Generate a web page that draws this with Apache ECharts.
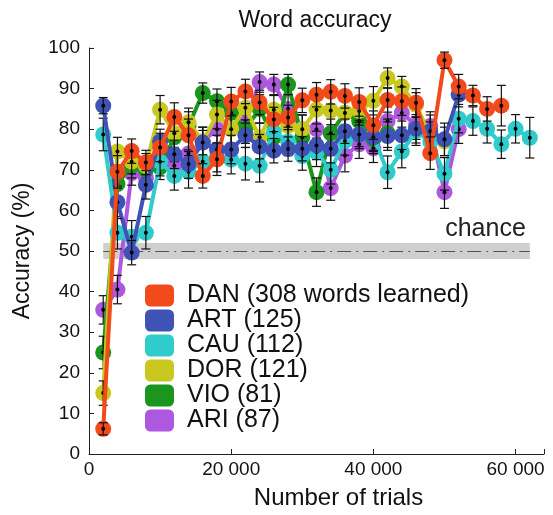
<!DOCTYPE html>
<html>
<head>
<meta charset="utf-8">
<script src="https://cdn.jsdelivr.net/npm/echarts@6/dist/echarts.min.js"></script>
<style>
html,body{margin:0;padding:0;background:#fff;}
#chart{width:553px;height:515px;}
</style>
</head>
<body>
<div id="chart"></div>
<script>
// ---- data ----
const trials = [2000,4000,6000,8000,10000,12000,14000,16000,18000,20000,22000,24000,26000,28000,30000,32000,34000,36000,38000,40000,42000,44000,46000,48000,50000,52000,54000,56000,58000,60000,62000];

const seriesNames = ['DAN (308 words learned)','ART (125)','CAU (112)','DOR (121)','VIO (81)','ARI (87)'];

const DAN = [6.2,69.5,74.6,71.8,75.5,83,78.5,68.5,72.6,86.8,89.3,86.6,82.4,82.9,87.1,88.5,89.2,88.2,86.7,81,87.2,86.9,86.5,74.1,97,90.5,88.3,85,85.8];
const DAN_err = [1.5,4,3,3,3.5,3.5,4,3,4,3.5,3,3,3,3,3,3,3,3,3.5,3.5,3,3.5,3.5,4,2,3,2.5,3,5];

const ART = [85.8,62,49.6,66.3,77,73.8,71.4,76.7,75,75,78.5,75.7,74.7,75.1,75.2,76,75.2,79.5,78.7,78,78.3,78.5,80.1,79.5,77.5,88.5];
const ART_err = [2,4,3,3.5,3,3.5,3.5,3,3.5,3.5,3,3,3,3,3,3.5,3.5,3,3,3.5,3.5,3.5,3.5,4,4,3];

const CAU = [78.7,54.5,53.5,54.5,72,68.5,69.5,72,73,72.5,71.5,71,79.3,77,73.4,74.3,70,77.1,78.7,78.3,69.4,74.5,79.5,77,69,82.6,82,80.1,76.3,80.1,77.9];
const CAU_err = [4,4,4,4,3.5,3.5,4,3.5,3.5,3.5,4,4,3.5,3.5,3.5,3.5,3.5,3.5,3.5,3.5,4,4,3.5,3.5,4,3.5,3.5,3.5,3.5,3.5,5];

const DOR = [15,74.5,72,71,84.8,79,81.7,77,83.6,80,85.3,78,84.8,80.8,80,84.8,84.6,84,84.5,87,92.6,90.5,86,78.3,77];
const DOR_err = [3,3.5,3,3,3.5,3.5,3.5,3.5,3.5,3.5,3,3.5,3.5,3.5,3.5,3.5,3.5,3.5,3.5,3.5,2.5,2.5,3,3.5,3.5];

const VIO = [25,66.5,71,70,70.6,78,80.8,88.9,86.9,84,80,85,78,91,78,64.5,79,84,82,77.5,79];
const VIO_err = [4,3.5,3,3,3,3.5,3.5,2.5,3,3.5,3.5,3.5,3.5,2.5,3.5,3.5,3.5,3,3,3.5,3.5];

const ARI = [35.5,40.5,69.2,68,74,71,74,77,80,80,82,91.6,91,85,80,80,65.5,73.5,76.3,75.3,82,84,81,80.8,64.5,80];
const ARI_err = [3.5,3.5,3,3,3.5,3.5,3.5,3.5,3.5,3.5,3,2.5,2.5,3.5,3.5,3.5,3,4,3.5,3.5,3.5,3.5,3.5,3.5,4,3.5];

const colors = ['#F24A1A','#3F52B5','#30CCCC','#C8C81E','#1A961E','#AD58DE'];

const chanceLevel = 50;
const chanceBand = [48, 52];
const chanceRange = [2000, 62000];

const xTicks = [0, 20000, 40000, 60000];
const yTicks = [0,10,20,30,40,50,60,70,80,90,100];

// ---- build ----
const values = [DAN, ART, CAU, DOR, VIO, ARI];
const errors = [DAN_err, ART_err, CAU_err, DOR_err, VIO_err, ARI_err];
const font = 'Liberation Sans, Arial, sans-serif';

const series = [];
// draw order: bottom ARI ... top DAN
const rank = [6,5,4,3,2,1];
values.forEach((vals, si) => {
  const pts = vals.map((v, i) => [trials[i], v]);
  const errPts = vals.map((v, i) => [trials[i], v, errors[si][i]]);
  const z = 2 + rank[si] * 2;
  series.push({
    name: seriesNames[si],
    type: 'line',
    data: pts,
    z: z,
    symbol: 'circle',
    symbolSize: 16,
    showAllSymbol: true,
    itemStyle: { color: colors[si] },
    lineStyle: { color: colors[si], width: 4 },
    emphasis: { disabled: true }
  });
  series.push({
    name: seriesNames[si],
    type: 'custom',
    z: z + 1,
    data: errPts,
    encode: { x: 0, y: 1 },
    renderItem: function (params, api) {
      const x = api.value(0), y = api.value(1), e = api.value(2);
      const c = api.coord([x, y]);
      const hi = api.coord([x, y + e]);
      const lo = api.coord([x, y - e]);
      const cap = 4.5;
      const st = { stroke: '#111', lineWidth: 1.2 };
      return {
        type: 'group',
        children: [
          { type: 'line', shape: { x1: c[0], y1: hi[1], x2: c[0], y2: lo[1] }, style: st },
          { type: 'line', shape: { x1: c[0] - cap, y1: hi[1], x2: c[0] + cap, y2: hi[1] }, style: st },
          { type: 'line', shape: { x1: c[0] - cap, y1: lo[1], x2: c[0] + cap, y2: lo[1] }, style: st },
          { type: 'circle', shape: { cx: c[0], cy: c[1], r: 2 }, style: { fill: '#000' } }
        ]
      };
    }
  });
});

// chance band + line
series.push({
  type: 'line',
  data: [],
  z: 1,
  silent: true,
  markArea: {
    silent: true,
    itemStyle: { color: '#cfcfcf' },
    data: [[{ coord: [chanceRange[0], chanceBand[0]] }, { coord: [chanceRange[1], chanceBand[1]] }]]
  },
  markLine: {
    silent: true,
    symbol: ['none', 'none'],
    lineStyle: { color: '#555', width: 1.2, type: [14, 5, 2, 5] },
    label: {
      show: true,
      position: 'insideEndTop',
      formatter: 'chance',
      color: '#222',
      fontSize: 25,
      fontFamily: font,
      distance: [4, 9]
    },
    data: [[{ coord: [chanceRange[0], chanceLevel] }, { coord: [chanceRange[1], chanceLevel] }]]
  }
});

const option = {
  animation: false,
  backgroundColor: '#fff',
  title: {
    text: 'Word accuracy',
    left: 310,
    top: 4,
    textAlign: 'center',
    textStyle: { fontFamily: font, fontSize: 23, fontWeight: 'normal', color: '#111' }
  },
  legend: {
    orient: 'vertical',
    left: 140,
    top: 278,
    itemWidth: 29,
    itemHeight: 22,
    itemGap: 0,
    icon: 'roundRect',
    selectedMode: false,
    data: seriesNames.map((n, i) => ({ name: n, itemStyle: { color: colors[i] } })),
    textStyle: { fontFamily: font, fontSize: 25, lineHeight: 22, color: '#111', padding: [0, 0, 0, 8] }
  },
  grid: { left: 89, right: 9, top: 48, bottom: 58 },
  xAxis: {
    type: 'value',
    min: 0,
    max: 64000,
    interval: 20000,
    name: 'Number of trials',
    nameLocation: 'middle',
    nameGap: 32,
    nameTextStyle: { fontFamily: font, fontSize: 24, color: '#111', padding: [0, 0, 0, 44] },
    axisLine: { lineStyle: { color: '#222', width: 1 } },
    axisTick: { inside: true, length: 5, lineStyle: { color: '#222' } },
    axisLabel: {
      fontFamily: font, fontSize: 19, color: '#111', margin: 6,
      formatter: v => xTicks.includes(v) ? String(v).replace(/\B(?=(\d{3})+(?!\d))/g, ' ') : ''
    },
    splitLine: { show: false }
  },
  yAxis: {
    type: 'value',
    min: 0,
    max: 100,
    interval: 10,
    name: 'Accuracy (%)',
    nameLocation: 'middle',
    nameRotate: 90,
    nameGap: 55,
    nameTextStyle: { fontFamily: font, fontSize: 23, color: '#111' },
    axisLine: { show: true, lineStyle: { color: '#222', width: 1 } },
    axisTick: { show: true, inside: true, length: 5, lineStyle: { color: '#222' } },
    axisLabel: { fontFamily: font, fontSize: 19, color: '#111', margin: 9,
      formatter: v => yTicks.includes(v) ? String(v) : '' },
    splitLine: { show: false }
  },
  series: series
};

const chart = echarts.init(document.getElementById('chart'), null, { renderer: 'canvas' });
chart.setOption(option);
</script>
</body>
</html>
